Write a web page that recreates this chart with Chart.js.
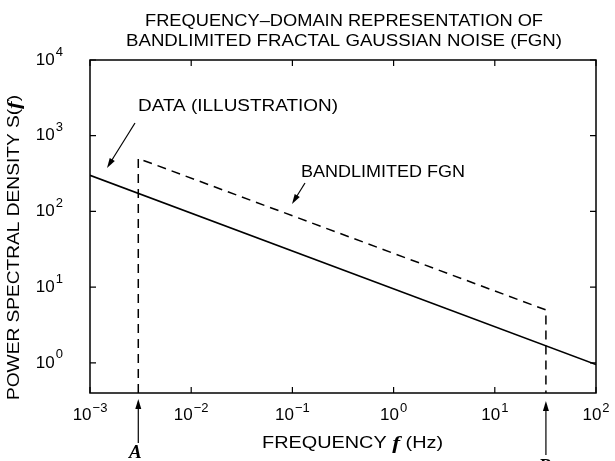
<!DOCTYPE html>
<html>
<head>
<meta charset="utf-8">
<script src="https://cdn.jsdelivr.net/npm/chart.js@4/dist/chart.umd.min.js"></script>
<style>
  html, body { margin: 0; padding: 0; background: #fff; }
  #wrap { width: 615px; height: 461px; }
</style>
</head>
<body>
<div id="wrap"><canvas id="psdChart" width="615" height="461"></canvas></div>
<script>
/* ================================
   Data
   ================================ */
const xTicks = [-3, -2, -1, 0, 1, 2];   // decade exponents, frequency axis
const yTicks = [0, 1, 2, 3, 4];         // decade exponents, PSD axis
const xRange = [0.001, 100];
const yRange = [0.4, 10000];

const bandA = 0.003;   // lower band edge (Hz)
const bandB = 32;      // upper band edge (Hz)

const dataFreq = [0.001, 100];
const dataPsd = [300, 0.95];

const fgnFreq = [bandA, bandA, bandB, bandB];
const fgnPsd = [0.4, 500, 5, 0.4];

const SANS = '"Liberation Sans", Arial, sans-serif';
const SERIF = '"Liberation Serif", serif';

/* ================================
   Text helpers
   ================================ */
// draw a list of runs left to right, squeezed/stretched to a given width
function drawRuns(ctx, runs, x, y, width) {
  let total = 0;
  runs.forEach(r => { ctx.font = r.font; r.w = ctx.measureText(r.t).width; total += r.w; });
  const sx = width ? width / total : 1;
  ctx.save();
  ctx.translate(x, y);
  ctx.scale(sx, 1);
  ctx.textAlign = 'left';
  ctx.textBaseline = 'middle';
  let cx = 0;
  runs.forEach(r => {
    ctx.font = r.font;
    ctx.fillText(r.t, cx, r.dy || 0);
    cx += r.w;
  });
  ctx.restore();
}

function fitText(ctx, text, x, y, size, width, align) {
  ctx.font = `${size}px ${SANS}`;
  const w = ctx.measureText(text).width;
  const left = align === 'center' ? x - width / 2 : x;
  drawRuns(ctx, [{ t: text, font: `${size}px ${SANS}` }], left, y, width || w);
}

// "10" with a raised exponent, anchored at its centre or right edge
function drawPower(ctx, exp, x, y, anchor, lift) {
  const base = { t: '10', font: `17px ${SANS}` };
  const sup = { t: exp < 0 ? '\u2212' + (-exp) : String(exp), font: `13px ${SANS}` };
  ctx.font = base.font; const wb = ctx.measureText(base.t).width;
  ctx.font = sup.font; const ws = ctx.measureText(sup.t).width + 1;
  const total = wb + ws;
  const left = anchor === 'center' ? x - total / 2 : x - total;
  ctx.save();
  ctx.textBaseline = 'middle';
  ctx.textAlign = 'left';
  ctx.font = base.font; ctx.fillText(base.t, left, y);
  ctx.font = sup.font; ctx.fillText(sup.t, left + wb + 1, y - lift);
  ctx.restore();
}

function drawArrow(ctx, x1, y1, x2, y2) {
  const ang = Math.atan2(y2 - y1, x2 - x1);
  const len = 10, half = 3;
  ctx.beginPath();
  ctx.moveTo(x1, y1);
  ctx.lineTo(x2 - Math.cos(ang) * len * 0.7, y2 - Math.sin(ang) * len * 0.7);
  ctx.stroke();
  ctx.beginPath();
  ctx.moveTo(x2, y2);
  ctx.lineTo(x2 - Math.cos(ang) * len - Math.sin(ang) * half, y2 - Math.sin(ang) * len + Math.cos(ang) * half);
  ctx.lineTo(x2 - Math.cos(ang) * len + Math.sin(ang) * half, y2 - Math.sin(ang) * len - Math.cos(ang) * half);
  ctx.closePath();
  ctx.fill();
}

/* ================================
   Frame, ticks and labels
   ================================ */
const decorations = {
  id: 'decorations',
  afterDraw(chart) {
    const { ctx, chartArea: a, scales: { x, y } } = chart;
    ctx.save();
    ctx.strokeStyle = '#000';
    ctx.fillStyle = '#000';

    // box
    ctx.lineWidth = 1.5;
    ctx.strokeRect(a.left, a.top, a.right - a.left, a.bottom - a.top);

    // inward ticks on all four sides
    ctx.lineWidth = 1.2;
    const tl = 6;
    xTicks.forEach(e => {
      const px = x.getPixelForValue(10 ** e);
      ctx.beginPath();
      ctx.moveTo(px, a.bottom); ctx.lineTo(px, a.bottom - tl);
      ctx.moveTo(px, a.top); ctx.lineTo(px, a.top + tl);
      ctx.stroke();
      drawPower(ctx, e, px, 415, 'center', 7);
    });
    yTicks.forEach(e => {
      const py = y.getPixelForValue(10 ** e);
      ctx.beginPath();
      ctx.moveTo(a.left, py); ctx.lineTo(a.left + tl, py);
      ctx.moveTo(a.right, py); ctx.lineTo(a.right - tl, py);
      ctx.stroke();
      drawPower(ctx, e, a.left - 27, py, 'right', 8);
    });

    // title
    fitText(ctx, 'FREQUENCY\u2013DOMAIN REPRESENTATION OF', 344, 22, 16, 398, 'center');
    fitText(ctx, 'BANDLIMITED FRACTAL GAUSSIAN NOISE (FGN)', 344, 42, 16, 436, 'center');

    // axis titles
    drawRuns(ctx, [
      { t: 'FREQUENCY ', font: `16px ${SANS}` },
      { t: 'f', font: `italic bold 19px ${SERIF}` },
      { t: ' (Hz)', font: `16px ${SANS}` }
    ], 262, 444, 181);

    ctx.save();
    ctx.translate(15, 400);
    ctx.rotate(-Math.PI / 2);
    drawRuns(ctx, [
      { t: 'POWER SPECTRAL DENSITY S(', font: `16px ${SANS}` },
      { t: 'f', font: `italic bold 19px ${SERIF}` },
      { t: ')', font: `16px ${SANS}` }
    ], 0, 0, 305);
    ctx.restore();

    // curve annotations
    fitText(ctx, 'DATA (ILLUSTRATION)', 138, 107, 16, 200);
    fitText(ctx, 'BANDLIMITED FGN', 301, 173, 16, 164);
    ctx.lineWidth = 1.2;
    drawArrow(ctx, 135, 123, 107, 168);
    drawArrow(ctx, 305, 183, 292, 204);

    // band edge markers below the axis
    const ax = x.getPixelForValue(bandA);
    const bx = x.getPixelForValue(bandB);
    drawArrow(ctx, ax, 443, ax, 399);
    drawArrow(ctx, bx, 455, bx, 401);
    ctx.font = `italic bold 19px ${SERIF}`;
    ctx.textAlign = 'center';
    ctx.textBaseline = 'middle';
    ctx.fillText('A', ax - 3, 453);
    ctx.fillText('B', bx - 1, 467);

    ctx.restore();
  }
};

/* ================================
   Chart
   ================================ */
const ctx = document.getElementById('psdChart').getContext('2d');
new Chart(ctx, {
  type: 'line',
  data: {
    datasets: [
      {
        label: 'Data (illustration)',
        data: dataFreq.map((f, i) => ({ x: f, y: dataPsd[i] })),
        borderColor: '#000',
        borderWidth: 1.6,
        pointRadius: 0,
        tension: 0
      },
      {
        label: 'Bandlimited FGN',
        data: fgnFreq.map((f, i) => ({ x: f, y: fgnPsd[i] })),
        borderColor: '#000',
        borderWidth: 1.5,
        borderDash: [9, 6],
        pointRadius: 0,
        tension: 0
      }
    ]
  },
  options: {
    responsive: false,
    animation: false,
    layout: { padding: { left: 90, right: 19, top: 60, bottom: 68 } },
    plugins: { legend: { display: false }, tooltip: { enabled: false } },
    scales: {
      x: { type: 'logarithmic', min: xRange[0], max: xRange[1], display: false },
      y: { type: 'logarithmic', min: yRange[0], max: yRange[1], display: false }
    }
  },
  plugins: [decorations]
});
</script>
</body>
</html>
